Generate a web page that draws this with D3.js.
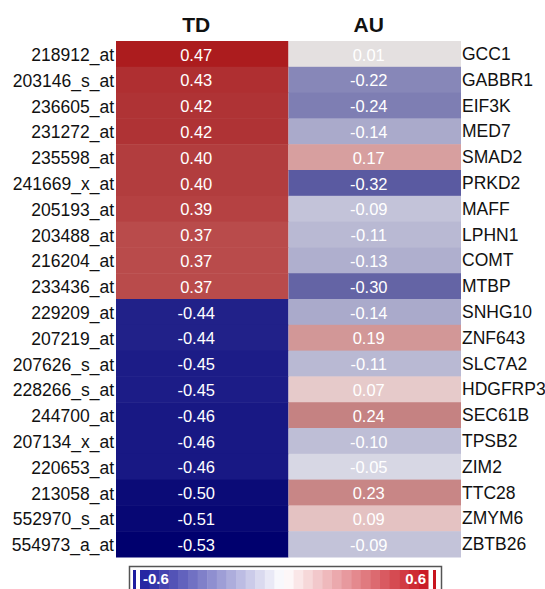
<!DOCTYPE html>
<html>
<head>
	<meta charset="utf-8"/>
	<script src="https://cdn.jsdelivr.net/npm/d3@7"></script>
	<style type="text/css">
		body { margin: 0; background: #fff; }
		svg { display: block; font-family: "Liberation Sans", Arial, sans-serif; }
	</style>
</head>
<body>
	<svg id="heatmap" width="545" height="589"></svg>
	<script type="text/javascript">

		var probes = ["218912_at", "203146_s_at", "236605_at", "231272_at", "235598_at",
			"241669_x_at", "205193_at", "203488_at", "216204_at", "233436_at",
			"229209_at", "207219_at", "207626_s_at", "228266_s_at", "244700_at",
			"207134_x_at", "220653_at", "213058_at", "552970_s_at", "554973_a_at"];
		var genes = ["GCC1", "GABBR1", "EIF3K", "MED7", "SMAD2", "PRKD2", "MAFF", "LPHN1", "COMT", "MTBP",
			"SNHG10", "ZNF643", "SLC7A2", "HDGFRP3", "SEC61B", "TPSB2", "ZIM2", "TTC28", "ZMYM6", "ZBTB26"];
		var groups = ["TD", "AU"];
		var tdValues = [0.47, 0.43, 0.42, 0.42, 0.40, 0.40, 0.39, 0.37, 0.37, 0.37,
			-0.44, -0.44, -0.45, -0.45, -0.46, -0.46, -0.46, -0.50, -0.51, -0.53];
		var auValues = [0.01, -0.22, -0.24, -0.14, 0.17, -0.32, -0.09, -0.11, -0.13, -0.30,
			-0.14, 0.19, -0.11, 0.07, 0.24, -0.10, -0.05, 0.23, 0.09, -0.09];
		var legendTicks = [-0.6, 0.6];

		// cells table
		var cells = [];
		probes.forEach(function(p, i) {
			cells.push({row: p, col: "TD", value: tdValues[i]});
			cells.push({row: p, col: "AU", value: auValues[i]});
		});

		var svg = d3.select("#heatmap");

		var x = d3.scaleBand().domain(groups).range([116, 461]);
		var y = d3.scaleBand().domain(probes).range([41, 557]);

		// cell colours (muted diverging palette as in the figure)
		var color = d3.scaleLinear()
			.domain([-0.6, -0.53, -0.45, -0.3, -0.15, -0.05, 0, 0.08, 0.18, 0.24, 0.37, 0.41, 0.47, 0.6])
			.range(["#000064", "#00006e", "#1c1c87", "#6464a5", "#a5a5c8", "#d7d7e4", "#e4e4e4",
				"#e6c6c6", "#d59b9b", "#c58282", "#b94b4b", "#b0383a", "#ac1c1e", "#a00000"])
			.clamp(true);

		svg.append("g")
			.selectAll("rect")
			.data(cells).enter()
			.append("rect")
				.attr("x", function(d) { return x(d.col); })
				.attr("y", function(d) { return y(d.row); })
				.attr("width", x.bandwidth())
				.attr("height", y.bandwidth() + 0.5)
				.style("fill", function(d) { return color(d.value); });

		svg.append("g")
			.selectAll("text")
			.data(cells).enter()
			.append("text")
				.attr("x", function(d) { return x(d.col) + x.bandwidth() / 2 - 6; })
				.attr("y", function(d) { return y(d.row) + y.bandwidth() / 2 + 1; })
				.attr("dy", "0.35em")
				.attr("text-anchor", "middle")
				.style("font-size", "16.5px")
				.style("fill", "#fff")
				.text(function(d) { return d.value.toFixed(2); });

		// column headers
		svg.append("g")
			.selectAll("text")
			.data(groups).enter()
			.append("text")
				.attr("x", function(d) { return x(d) + x.bandwidth() / 2 - 6; })
				.attr("y", 32)
				.attr("text-anchor", "middle")
				.style("font-size", "21px")
				.style("font-weight", "bold")
				.style("fill", "#111")
				.text(function(d) { return d; });

		// row labels left (probes) and right (genes)
		svg.append("g")
			.selectAll("text")
			.data(probes).enter()
			.append("text")
				.attr("x", 114)
				.attr("y", function(d) { return y(d) + y.bandwidth() / 2 + 1; })
				.attr("dy", "0.35em")
				.attr("text-anchor", "end")
				.style("font-size", "17.5px")
				.style("fill", "#111")
				.text(function(d) { return d; });

		svg.append("g")
			.selectAll("text")
			.data(genes).enter()
			.append("text")
				.attr("x", 462)
				.attr("y", function(d, i) { return y(probes[i]) + y.bandwidth() / 2; })
				.attr("dy", "0.35em")
				.style("font-size", "17.5px")
				.style("fill", "#111")
				.text(function(d) { return d; });

		// colour legend
		var legend = svg.append("g");
		legend.append("rect")
			.attr("x", 129.5).attr("y", 566.5)
			.attr("width", 312).attr("height", 30)
			.style("fill", "#fff")
			.style("stroke", "#555")
			.style("stroke-width", 1.5);

		var lx = d3.scaleLinear().domain(legendTicks).range([140, 428]);
		var legendColor = d3.scaleLinear()
			.domain([-0.6, 0, 0.6])
			.range(["#1e1ea0", "#ffffff", "#c8141e"]);
		var steps = d3.range(-0.6, 0.6, 0.04);
		legend.selectAll("rect.step")
			.data(steps).enter()
			.append("rect")
				.attr("class", "step")
				.attr("x", function(d) { return lx(d); })
				.attr("y", 570)
				.attr("width", lx(0.04) - lx(0) + 0.5)
				.attr("height", 20)
				.style("fill", function(d) { return legendColor(d + 0.02); });

		legend.append("rect")
			.attr("x", 133).attr("y", 570).attr("width", 3).attr("height", 20)
			.style("fill", legendColor(-0.6));
		legend.append("rect")
			.attr("x", 433).attr("y", 570).attr("width", 3).attr("height", 20)
			.style("fill", legendColor(0.6));

		legend.selectAll("text")
			.data(legendTicks).enter()
			.append("text")
				.attr("x", function(d) { return d < 0 ? lx(d) + 3 : lx(d) - 2; })
				.attr("y", 584)
				.attr("text-anchor", function(d) { return d < 0 ? "start" : "end"; })
				.style("font-size", "15px")
				.style("font-weight", "bold")
				.style("fill", "#fff")
				.text(function(d) { return d.toFixed(1); });

	</script>
</body>
</html>
